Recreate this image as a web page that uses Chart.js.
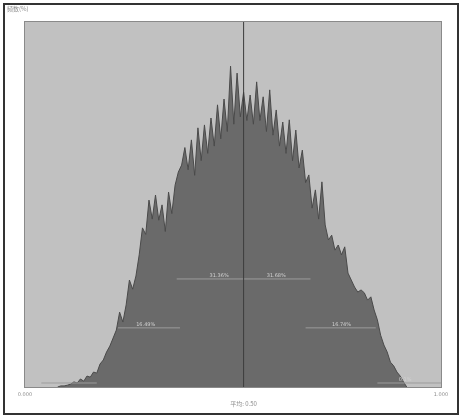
<!DOCTYPE html>
<html>
<head>
<meta charset="utf-8">
<script src="https://cdn.jsdelivr.net/npm/chart.js@4/dist/chart.umd.min.js"></script>
<style>
  html, body { margin: 0; padding: 0; background: #fff; }
  #wrap { width: 462px; height: 418px; }
</style>
</head>
<body>
<div id="wrap"><canvas id="myChart" width="462" height="418"></canvas></div>
<script>
// histogram bins (every 2nd bin) and their heights in %
var bins = [];
for (var b = 20; b <= 234; b += 2) bins.push(b);
var counts = [
  0, 0.3, 0.3, 0.5, 0.8, 1.4, 1.1, 2.2, 1.6, 3.0,
  2.7, 4.1, 3.8, 6.3, 7.4, 9.6, 11.2, 13.4, 15.6, 20.5,
  17.8, 22.5, 29.3, 26.8, 30.4, 36.2, 43.6, 41.8, 51.2, 46.0,
  52.6, 45.7, 49.9, 42.6, 53.4, 47.5, 55.3, 58.9,
  60.8, 65.6, 59.5, 67.7, 58.0, 71.0, 62.0, 71.8, 64.0, 73.7,
  66.0, 77.3, 68.0, 78.9, 70.0, 87.9, 72.0, 86.0, 74.0, 80.8,
  73.0, 80.0, 72.0, 83.6, 73.0, 79.5, 70.0, 81.4, 69.0, 75.9,
  66.0, 72.6, 64.0, 73.2, 62.0, 70.4, 60.0, 64.9, 56.0, 58.1,
  49.0, 54.0, 46.0, 56.2,
  44.4, 40.3, 41.6, 37.5, 38.9, 36.2, 38.4, 31.2,
  29.3, 27.4, 26.0, 26.6, 25.8, 23.8, 24.7, 21.1, 18.4, 14.2,
  11.5, 9.6, 6.8, 5.8, 4.1, 3.0, 1.4, 0
];

var xMin = 0, xMax = 255;
var meanBin = 134;
var xTickLabels = ["0.000", "1.000"];
var yTitle = "频数(%)";
var xTitle = "平均: 0.50";

// marker lines: from bin, to bin, level (%), label and where the label sits
var markerFrom = [93, 134, 57, 172, 10, 216];
var markerTo = [134, 175, 95, 215, 44, 255];
var markerLevel = [29.6, 29.6, 16.2, 16.2, 1.1, 1.1];
var markerLabel = ["31.36%", "31.68%", "16.49%", "16.74%", "", "0.1%"];
var markerLabelAt = [119, 154, 74, 194, 27, 233];

var histData = bins.map(function(b, i) { return { x: b, y: counts[i] }; });

var datasets = [{
  label: 'hist',
  data: histData,
  borderColor: '#4a4a4a',
  borderWidth: 1,
  backgroundColor: '#6a6a6a',
  fill: 'origin',
  pointRadius: 0,
  tension: 0,
  order: 2
}, {
  label: 'mean',
  data: [{ x: meanBin, y: 0 }, { x: meanBin, y: 100 }],
  borderColor: '#3c3c3c',
  borderWidth: 1,
  pointRadius: 0,
  fill: false,
  order: 0
}];

markerFrom.forEach(function(f, i) {
  datasets.push({
    label: 'marker' + i,
    data: [{ x: f, y: markerLevel[i] }, { x: markerTo[i], y: markerLevel[i] }],
    borderColor: '#9c9c9c',
    borderWidth: 1,
    pointRadius: 0,
    fill: false,
    order: 1
  });
});

var decor = {
  id: 'decor',
  beforeDraw: function(chart) {
    var c = chart.ctx, a = chart.chartArea;
    c.save();
    c.fillStyle = '#c1c1c1';
    c.fillRect(a.left, a.top, a.right - a.left, a.bottom - a.top);
    c.strokeStyle = '#8a8a8a';
    c.lineWidth = 1;
    c.strokeRect(a.left - 0.5, a.top - 0.5, a.right - a.left + 1, a.bottom - a.top + 1);
    c.restore();
  },
  afterDraw: function(chart) {
    var c = chart.ctx, a = chart.chartArea;
    var xs = chart.scales.x, ys = chart.scales.y;
    c.save();
    // outer frame
    c.strokeStyle = '#333';
    c.lineWidth = 2;
    c.strokeRect(4, 4, 454, 410);
    // marker labels
    c.font = '5px "DejaVu Sans"';
    c.fillStyle = '#d2d2d2';
    c.textBaseline = 'bottom';
    c.textAlign = 'center';
    markerLabel.forEach(function(t, i) {
      if (!t) return;
      c.fillText(t, xs.getPixelForValue(markerLabelAt[i]), ys.getPixelForValue(markerLevel[i]) - 1);
    });
    // tick labels and titles
    c.fillStyle = '#8c8c8c';
    c.font = '5px "DejaVu Sans"';
    c.textBaseline = 'top';
    c.fillText(xTickLabels[0], xs.getPixelForValue(xMin), a.bottom + 5);
    c.fillText(xTickLabels[1], xs.getPixelForValue(xMax), a.bottom + 5);
    c.font = '6px "Noto Sans CJK SC"';
    c.fillText(xTitle, xs.getPixelForValue(meanBin), a.bottom + 14);
    c.textAlign = 'left';
    c.fillText(yTitle, 7, 6);
    c.restore();
  }
};

var ctx = document.getElementById("myChart").getContext('2d');
var myChart = new Chart(ctx, {
  type: 'line',
  data: { datasets: datasets },
  options: {
    responsive: false,
    animation: false,
    layout: { padding: { left: 25, right: 21, top: 22, bottom: 31 } },
    plugins: { legend: { display: false }, tooltip: { enabled: false } },
    scales: {
      x: { type: 'linear', min: xMin, max: xMax, display: false },
      y: { min: 0, max: 100, display: false }
    }
  },
  plugins: [decor]
});
</script>
</body>
</html>
